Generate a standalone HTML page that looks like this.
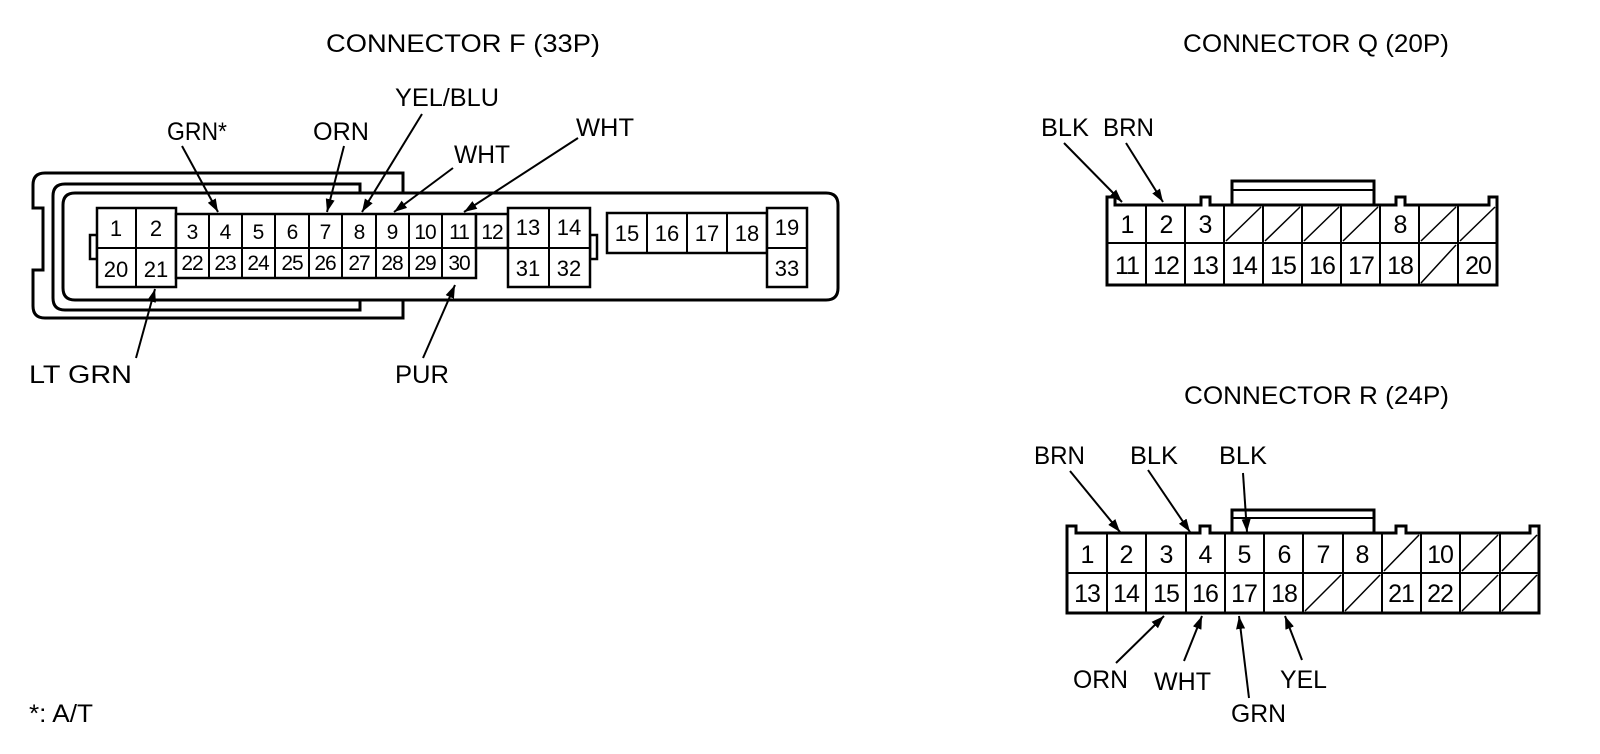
<!DOCTYPE html>
<html><head><meta charset="utf-8"><style>
html,body{margin:0;padding:0;background:#fff;}
svg{display:block;}
text{font-family:"Liberation Sans",Arial,sans-serif;fill:#000;}
</style></head><body>
<svg width="1600" height="754" viewBox="0 0 1600 754" xmlns="http://www.w3.org/2000/svg">
<defs>
<marker id="a" viewBox="0 0 10 10" refX="10" refY="5" markerWidth="13" markerHeight="13" markerUnits="userSpaceOnUse" orient="auto">
<path d="M0,1.5 L10,5 L0,8.5 Z" fill="#000"/>
</marker>
</defs>
<rect width="1600" height="754" fill="#fff"/>

<g font-size="25">
<text x="326" y="52" textLength="274" lengthAdjust="spacingAndGlyphs">CONNECTOR F (33P)</text>
<text x="1183" y="52" textLength="266" lengthAdjust="spacingAndGlyphs">CONNECTOR Q (20P)</text>
<text x="1184" y="404" textLength="265" lengthAdjust="spacingAndGlyphs">CONNECTOR R (24P)</text>
<text x="29" y="722" textLength="64" lengthAdjust="spacingAndGlyphs">*: A/T</text>
</g>

<!-- Connector F outline -->
<g fill="none" stroke="#000" stroke-width="3">
<path d="M403 193 L403 173 L45 173 Q33 173 33 185 L33 208 L43 208 L43 270 L33 270 L33 306 Q33 318 45 318 L403 318 L403 300"/>
<path d="M360 193 L360 184 L65 184 Q53 184 53 196 L53 298 Q53 310 65 310 L360 310 L360 300"/>
<path d="M75 193 L826 193 Q838 193 838 205 L838 288 Q838 300 826 300 L75 300 Q63 300 63 288 L63 205 Q63 193 75 193 Z"/>
</g>
<g fill="#fff" stroke="#000" stroke-width="2.5">
<rect x="90" y="235" width="7" height="24"/>
<rect x="590" y="235" width="7" height="24"/>
<rect x="97" y="208" width="79" height="79"/>
<rect x="176" y="214" width="300" height="64"/>
<rect x="476" y="214" width="32" height="34"/>
<rect x="508" y="208" width="82" height="79"/>
<rect x="607" y="213" width="160" height="40"/>
<rect x="767" y="208" width="40" height="79"/>
</g>
<g stroke="#000" stroke-width="2" fill="none">
<path d="M97 248 H476 M508 248 H590 M767 248 H807 M136 208 V287 M549 208 V287 M647 213 V253 M687 213 V253 M727 213 V253
M209 214 V278 M242 214 V278 M275 214 V278 M309 214 V278 M342 214 V278 M376 214 V278 M409 214 V278 M442 214 V278"/>
</g>
<g font-size="22" text-anchor="middle">
<text x="116" y="236">1</text><text x="156" y="236">2</text>
<text x="569" y="235">14</text><text x="528" y="235">13</text>
<text x="627" y="241">15</text><text x="667" y="241">16</text><text x="707" y="241">17</text><text x="747" y="241">18</text>
<text x="787" y="235">19</text><text x="787" y="276">33</text>
<text x="116" y="277">20</text><text x="156" y="277">21</text>
<text x="528" y="276">31</text><text x="569" y="276">32</text>
</g>
<g font-size="21" text-anchor="middle" letter-spacing="-1">
<text x="192" y="239">3</text><text x="225" y="239">4</text><text x="258" y="239">5</text><text x="292" y="239">6</text><text x="325" y="239">7</text><text x="359" y="239">8</text><text x="392" y="239">9</text><text x="425" y="239">10</text><text x="459" y="239">11</text><text x="492" y="239">12</text>
<text x="192" y="270">22</text><text x="225" y="270">23</text><text x="258" y="270">24</text><text x="292" y="270">25</text><text x="325" y="270">26</text><text x="359" y="270">27</text><text x="392" y="270">28</text><text x="425" y="270">29</text><text x="459" y="270">30</text>
</g>
<g font-size="25">
<text x="167" y="140" textLength="60" lengthAdjust="spacingAndGlyphs">GRN*</text>
<text x="313" y="140" textLength="56" lengthAdjust="spacingAndGlyphs">ORN</text>
<text x="395" y="106" textLength="104" lengthAdjust="spacingAndGlyphs">YEL/BLU</text>
<text x="454" y="163" textLength="56" lengthAdjust="spacingAndGlyphs">WHT</text>
<text x="576" y="136" textLength="58" lengthAdjust="spacingAndGlyphs">WHT</text>
<text x="29" y="383" textLength="103" lengthAdjust="spacingAndGlyphs">LT GRN</text>
<text x="395" y="383" textLength="54" lengthAdjust="spacingAndGlyphs">PUR</text>
</g>
<g stroke="#000" stroke-width="2" marker-end="url(#a)">
<line x1="182" y1="146" x2="218" y2="212"/>
<line x1="344" y1="146" x2="327" y2="212"/>
<line x1="422" y1="114" x2="362" y2="212"/>
<line x1="453" y1="168" x2="394" y2="212"/>
<line x1="578" y1="138" x2="464" y2="212"/>
<line x1="136" y1="358" x2="155" y2="289"/>
<line x1="423" y1="358" x2="455" y2="285"/>
</g>

<!-- Connector Q -->
<g fill="#fff" stroke="#000" stroke-width="3">
<path d="M1232 205 L1232 181 L1374 181 L1374 205"/>
<path d="M1107 285 L1107 197 L1115 197 L1115 205 L1201 205 L1201 197 L1210 197 L1210 205 L1396 205 L1396 197 L1405 197 L1405 205 L1489 205 L1489 197 L1497 197 L1497 285 Z"/>
</g>
<g stroke="#000" stroke-width="2" fill="none">
<path d="M1232 190 H1374 M1107 243 H1497 M1146 205 V285 M1185 205 V285 M1224 205 V285 M1263 205 V285 M1302 205 V285 M1341 205 V285 M1380 205 V285 M1419 205 V285 M1458 205 V285"/>
</g>
<g stroke="#000" stroke-width="1.5">
<line x1="1226" y1="241" x2="1261" y2="207"/><line x1="1265" y1="241" x2="1300" y2="207"/><line x1="1304" y1="241" x2="1339" y2="207"/><line x1="1343" y1="241" x2="1378" y2="207"/>
<line x1="1421" y1="241" x2="1456" y2="207"/><line x1="1460" y1="241" x2="1495" y2="207"/>
<line x1="1421" y1="283" x2="1456" y2="245"/>
</g>
<g font-size="25" text-anchor="middle" letter-spacing="-1">
<text x="1127" y="233">1</text><text x="1166" y="233">2</text><text x="1205" y="233">3</text><text x="1400" y="233">8</text>
<text x="1127" y="274">11</text><text x="1166" y="274">12</text><text x="1205" y="274">13</text><text x="1244" y="274">14</text><text x="1283" y="274">15</text><text x="1322" y="274">16</text><text x="1361" y="274">17</text><text x="1400" y="274">18</text><text x="1478" y="274">20</text>
</g>
<g font-size="25">
<text x="1041" y="136" textLength="48" lengthAdjust="spacingAndGlyphs">BLK</text><text x="1103" y="136" textLength="51" lengthAdjust="spacingAndGlyphs">BRN</text>
</g>
<g stroke="#000" stroke-width="2" marker-end="url(#a)">
<line x1="1064" y1="143" x2="1122" y2="202"/>
<line x1="1126" y1="143" x2="1163" y2="202"/>
</g>

<!-- Connector R -->
<g fill="#fff" stroke="#000" stroke-width="3">
<path d="M1232 533 L1232 510 L1374 510 L1374 533"/>
<path d="M1067 613 L1067 526 L1076 526 L1076 533 L1200 533 L1200 526 L1210 526 L1210 533 L1396 533 L1396 526 L1406 526 L1406 533 L1530 533 L1530 526 L1539 526 L1539 613 Z"/>
</g>
<g stroke="#000" stroke-width="2" fill="none">
<path d="M1232 518 H1374 M1067 573 H1539 M1107 533 V613 M1146 533 V613 M1186 533 V613 M1225 533 V613 M1264 533 V613 M1303 533 V613 M1343 533 V613 M1382 533 V613 M1421 533 V613 M1460 533 V613 M1500 533 V613"/>
</g>
<g stroke="#000" stroke-width="1.5">
<line x1="1384" y1="571" x2="1419" y2="535"/><line x1="1462" y1="571" x2="1498" y2="535"/><line x1="1502" y1="571" x2="1537" y2="535"/>
<line x1="1305" y1="611" x2="1341" y2="575"/><line x1="1345" y1="611" x2="1380" y2="575"/><line x1="1462" y1="611" x2="1498" y2="575"/><line x1="1502" y1="611" x2="1537" y2="575"/>
</g>
<g font-size="25" text-anchor="middle" letter-spacing="-1">
<text x="1087" y="563">1</text><text x="1126" y="563">2</text><text x="1166" y="563">3</text><text x="1205" y="563">4</text><text x="1244" y="563">5</text><text x="1284" y="563">6</text><text x="1323" y="563">7</text><text x="1362" y="563">8</text><text x="1440" y="563">10</text>
<text x="1087" y="602">13</text><text x="1126" y="602">14</text><text x="1166" y="602">15</text><text x="1205" y="602">16</text><text x="1244" y="602">17</text><text x="1284" y="602">18</text><text x="1401" y="602">21</text><text x="1440" y="602">22</text>
</g>
<g font-size="25">
<text x="1034" y="464" textLength="51" lengthAdjust="spacingAndGlyphs">BRN</text><text x="1130" y="464" textLength="48" lengthAdjust="spacingAndGlyphs">BLK</text><text x="1219" y="464" textLength="48" lengthAdjust="spacingAndGlyphs">BLK</text>
<text x="1073" y="688" textLength="55" lengthAdjust="spacingAndGlyphs">ORN</text><text x="1154" y="690" textLength="57" lengthAdjust="spacingAndGlyphs">WHT</text><text x="1280" y="688" textLength="47" lengthAdjust="spacingAndGlyphs">YEL</text><text x="1231" y="722" textLength="55" lengthAdjust="spacingAndGlyphs">GRN</text>
</g>
<g stroke="#000" stroke-width="2" marker-end="url(#a)">
<line x1="1070" y1="471" x2="1120" y2="532"/>
<line x1="1148" y1="470" x2="1190" y2="532"/>
<line x1="1243" y1="473" x2="1247" y2="532"/>
<line x1="1116" y1="663" x2="1164" y2="616"/>
<line x1="1184" y1="661" x2="1202" y2="616"/>
<line x1="1249" y1="698" x2="1239" y2="616"/>
<line x1="1302" y1="660" x2="1285" y2="616"/>
</g>
</svg>
</body></html>
